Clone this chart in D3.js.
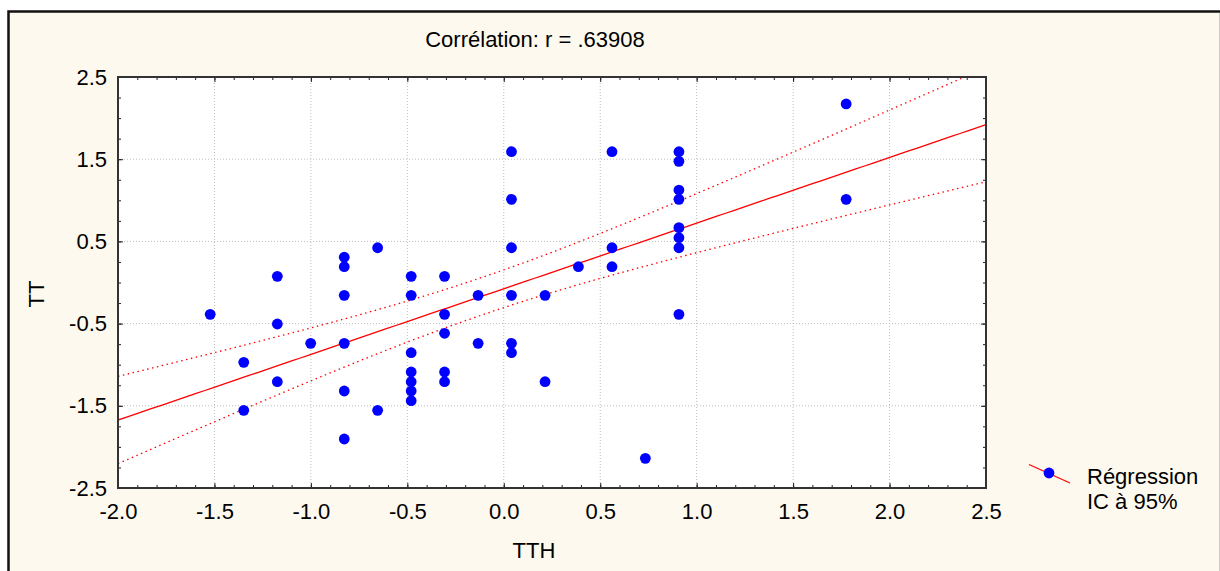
<!DOCTYPE html>
<html>
<head>
    <meta charset="utf-8">
    <title>Corrélation TTH / TT</title>
    <script src="https://d3js.org/d3.v7.min.js"></script>
    <style>
        body { margin: 0; background: #ffffff; }
        text { font-family: "Liberation Sans", Arial, sans-serif; fill: #000; }
    </style>
</head>
<body>
    <div id="chart"></div>
    <script>

        // points (standardised scores)
        var tthValues = [
            -1.522, -1.348, -1.348, -1.174, -1.174, -1.174, -1.001,
            -0.827, -0.827, -0.827, -0.827, -0.827, -0.827,
            -0.654, -0.654,
            -0.480, -0.480, -0.480, -0.480, -0.480, -0.480, -0.480,
            -0.307, -0.307, -0.307, -0.307, -0.307,
            -0.133, -0.133,
            0.040, 0.040, 0.040, 0.040, 0.040, 0.040,
            0.214, 0.214, 0.387,
            0.561, 0.561, 0.561, 0.734,
            0.908, 0.908, 0.908, 0.908, 0.908, 0.908, 0.908, 0.908,
            1.775, 1.775
        ];
        var ttValues = [
            -0.387, -0.971, -1.555, 0.075, -0.505, -1.207, -0.740,
            0.307, 0.192, -0.156, -0.740, -1.320, -1.904,
            0.423, -1.555,
            0.075, -0.156, -0.854, -1.089, -1.207, -1.320, -1.438,
            0.075, -0.387, -0.618, -1.089, -1.207,
            -0.156, -0.740,
            1.591, 1.012, 0.423, -0.156, -0.740, -0.854,
            -0.156, -1.207, 0.192,
            1.591, 0.423, 0.192, -2.139,
            1.591, 1.474, 1.125, 1.012, 0.667, 0.545, 0.423, -0.387,
            2.172, 1.012
        ];

        var xTicks = [-2.0, -1.5, -1.0, -0.5, 0.0, 0.5, 1.0, 1.5, 2.0, 2.5];
        var yTicks = [-2.5, -1.5, -0.5, 0.5, 1.5, 2.5];
        var titleText = "Corrélation: r = .63908";
        var xLabel = "TTH";
        var yLabel = "TT";
        var legendLabels = ["Régression", "IC à 95%"];

        // fitted line and 95% band
        var regIntercept = -0.076;
        var regSlope = 0.7986;
        var ciCenter = -0.1;
        var ciMinHalf = 0.228;
        var ciRate = 0.2526;

        var W = 1220, H = 571;
        var margin = { top: 77, left: 118, right: 234, bottom: 83 };
        var width = W - margin.left - margin.right;
        var height = H - margin.top - margin.bottom;

        var root = d3.select("#chart").append("svg")
            .attr("width", W)
            .attr("height", H);

        // outer panel
        root.append("rect")
            .attr("x", 8.5).attr("y", 11.5)
            .attr("width", W + 10).attr("height", H + 10)
            .attr("fill", "#fdf9ee")
            .attr("stroke", "#111")
            .attr("stroke-width", 2.5);
        root.append("line")
            .attr("x1", 1219.5).attr("x2", 1219.5)
            .attr("y1", 13).attr("y2", H)
            .attr("stroke", "#ccc");

        var svg = root.append("g")
            .attr("transform", `translate(${margin.left}, ${margin.top})`);

        var x = d3.scaleLinear().domain([-2, 2.5]).range([0, width]);
        var y = d3.scaleLinear().domain([-2.5, 2.5]).range([height, 0]);

        svg.append("rect")
            .attr("width", width).attr("height", height)
            .attr("fill", "#fff");

        // grid
        svg.append("g").selectAll("line")
            .data(xTicks.slice(1, -1))
            .join("line")
            .attr("x1", d => x(d)).attr("x2", d => x(d))
            .attr("y1", 0).attr("y2", height)
            .attr("stroke", "#bdbdbd")
            .attr("stroke-dasharray", "1,2");
        svg.append("g").selectAll("line")
            .data(yTicks.slice(1, -1))
            .join("line")
            .attr("y1", d => y(d)).attr("y2", d => y(d))
            .attr("x1", 0).attr("x2", width)
            .attr("stroke", "#bdbdbd")
            .attr("stroke-dasharray", "1,2");

        // regression line and confidence band
        var xs = d3.range(0, 101).map(i => -2 + 4.5 * i / 100);
        var band = xs.map(function(v) {
            var fit = regIntercept + regSlope * v;
            var half = Math.sqrt(ciMinHalf * ciMinHalf + Math.pow(ciRate * (v - ciCenter), 2));
            return { x: v, fit: fit, lo: fit - half, hi: fit + half };
        });

        svg.append("clipPath").attr("id", "clip")
            .append("rect").attr("width", width).attr("height", height);

        var lines = svg.append("g").attr("clip-path", "url(#clip)");
        ["hi", "lo"].forEach(function(k) {
            lines.append("path")
                .datum(band)
                .attr("fill", "none")
                .attr("stroke", "#ff0000")
                .attr("stroke-width", 1.3)
                .attr("stroke-dasharray", "1.5,3.5")
                .attr("d", d3.line().x(d => x(d.x)).y(d => y(d[k])));
        });
        lines.append("path")
            .datum(band)
            .attr("fill", "none")
            .attr("stroke", "#ff0000")
            .attr("stroke-width", 1.3)
            .attr("d", d3.line().x(d => x(d.x)).y(d => y(d.fit)));

        // points
        svg.append("g").selectAll("circle")
            .data(tthValues)
            .join("circle")
            .attr("cx", d => x(d))
            .attr("cy", (d, i) => y(ttValues[i]))
            .attr("r", 5.4)
            .attr("fill", "#0000ff");

        // axes, ticks pointing inward
        var xMinor = d3.range(-20, 26).map(i => i / 10);
        var yMinor = d3.range(-10, 11).map(i => i / 4);
        var fmt = d => d3.format(".1f")(d).replace("\u2212", "-");

        function styleAxis(g) {
            g.select(".domain").remove();
            g.selectAll(".tick line").attr("stroke", "#222");
            g.selectAll("text")
                .style("font-size", "22px")
                .style("font-family", "'Liberation Sans', Arial, sans-serif")
                .attr("fill", "#000");
        }

        svg.append("g")
            .attr("transform", `translate(0, ${height})`)
            .call(d3.axisBottom(x).tickValues(xMinor).tickSize(-3).tickFormat(""))
            .call(styleAxis);
        svg.append("g")
            .attr("transform", `translate(0, ${height})`)
            .call(d3.axisBottom(x).tickValues(xTicks).tickSize(-5).tickPadding(15)
                .tickFormat(fmt))
            .call(styleAxis);
        svg.append("g")
            .call(d3.axisTop(x).tickValues(xMinor).tickSize(-3).tickFormat(""))
            .call(styleAxis);
        svg.append("g")
            .call(d3.axisTop(x).tickValues(xTicks).tickSize(-5).tickFormat(""))
            .call(styleAxis);

        svg.append("g")
            .call(d3.axisLeft(y).tickValues(yMinor).tickSize(-3).tickFormat(""))
            .call(styleAxis);
        svg.append("g")
            .call(d3.axisLeft(y).tickValues(yTicks).tickSize(-5).tickPadding(11)
                .tickFormat(fmt))
            .call(styleAxis);
        svg.append("g")
            .attr("transform", `translate(${width}, 0)`)
            .call(d3.axisRight(y).tickValues(yMinor).tickSize(-3).tickFormat(""))
            .call(styleAxis);
        svg.append("g")
            .attr("transform", `translate(${width}, 0)`)
            .call(d3.axisRight(y).tickValues(yTicks).tickSize(-5).tickFormat(""))
            .call(styleAxis);

        // frame
        svg.append("rect")
            .attr("width", width).attr("height", height)
            .attr("fill", "none")
            .attr("stroke", "#333")
            .attr("stroke-width", 2);

        // labels
        root.append("text")
            .attr("x", 535).attr("y", 47)
            .attr("text-anchor", "middle")
            .style("font-size", "22px")
            .text(titleText);

        root.append("text")
            .attr("x", 534).attr("y", 558)
            .attr("text-anchor", "middle")
            .style("font-size", "22px")
            .text(xLabel);

        root.append("text")
            .attr("transform", "translate(44, 294) rotate(-90)")
            .attr("text-anchor", "middle")
            .style("font-size", "22px")
            .text(yLabel);

        // legend
        var leg = root.append("g").attr("transform", "translate(1049, 473)");
        leg.append("line")
            .attr("x1", -20).attr("y1", -8.5)
            .attr("x2", 21).attr("y2", 10)
            .attr("stroke", "#ff0000")
            .attr("stroke-width", 1.2);
        leg.append("circle").attr("r", 5.4).attr("fill", "#0000ff");
        leg.selectAll("text.lab")
            .data(legendLabels)
            .join("text")
            .attr("class", "lab")
            .attr("x", 38)
            .attr("y", (d, i) => 11 + i * 25)
            .style("font-size", "22px")
            .text(d => d);

    </script>
</body>
</html>
